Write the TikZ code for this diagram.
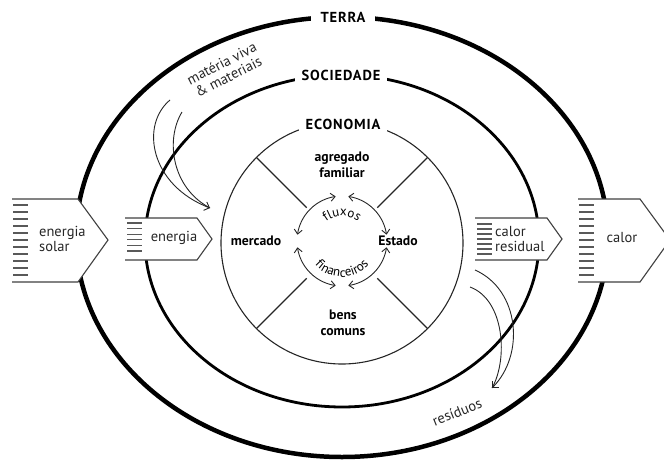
\documentclass[tikz,border=0pt]{standalone}
\usepackage{fontspec}
\setmainfont{PT Sans}
\usetikzlibrary{decorations.text,arrows.meta}
\tikzset{
  boxline/.style={draw=black!75, line width=1.1pt, fill=white},
  hatch/.style={draw=black!65, line width=1.3pt},
  lbl/.style={font=\fontsize{14.5}{15}\selectfont, align=center, inner sep=1pt, text=black!85},
  blbl/.style={font=\bfseries\fontsize{13.7}{15.5}\selectfont, align=center, inner sep=1pt},
  title/.style={font=\bfseries\fontsize{14.5}{15}\selectfont\addfontfeature{LetterSpace=6}, fill=white},
  ringarrow/.style={draw=black!85, line width=0.9pt, {Straight Barb[length=4.5pt,width=8pt]}-{Straight Barb[length=4.5pt,width=8pt]}},
  flow/.style={draw=black!85, line width=0.9pt}
}
\begin{document}
\begin{tikzpicture}[x=1pt,y=-1pt]
\useasboundingbox (0,0) rectangle (664,463);
% ellipses
\draw[line width=4.5pt] (342,237) ellipse [x radius=266, y radius=220];
\draw[line width=2.8pt] (342,241) ellipse [x radius=197, y radius=166];
\draw[line width=1.1pt, draw=black!85] (342,243) circle [radius=121];
% dividers
\foreach \a in {45,135,225,315}
  \draw[line width=1.1pt, draw=black!85] ({342+50*cos(\a)},{243+50*sin(\a)}) -- ({342+121*cos(\a)},{243+121*sin(\a)});
% titles
\node[title, inner xsep=10pt] (terra) at (343,17) {TERRA};
\node[title, inner xsep=7pt] (soc) at (341,75) {SOCIEDADE};
\node[title, inner xsep=7pt] (eco) at (343,124) {ECONOMIA};
% ring arrows
\foreach \s in {8,98,188,278}
  \draw[ringarrow] plot[domain=\s:\s+74, samples=25, smooth] ({342+45*cos(\x)},{241-45*sin(\x)});
\path[decorate, decoration={text along path, text align=center,
   text={|\fontsize{13}{14}\selectfont|fluxos}}]
   (320.35,228.5) .. controls (329.98,211.83) and (354.02,211.83) .. (363.65,228.5);
\path[decorate, decoration={text along path, text align=center,
   text={|\fontsize{13}{14}\selectfont|financeiros}}]
   (308.17,253.31) .. controls (319.66,284.89) and (364.34,284.89) .. (375.83,253.31);
% economy labels
\node[blbl] (fam) at (342,165) {agregado\\familiar};
\node[blbl] (merc) at (256,241) {mercado};
\node[blbl] (est) at (398,241) {Estado};
\node[blbl] (bens) at (343,323) {bens\\comuns};
% energy boxes
\filldraw[boxline] (12,199) -- (78,199) -- (108,240) -- (78,282) -- (12,282);
\foreach \i in {0,...,10} \draw[hatch] (13,{205+7*\i}) -- (28,{205+7*\i});
\node[lbl, anchor=west, align=left] (solar) at (38,239) {energia\\solar};
\filldraw[boxline] (125,218) -- (197,218) -- (212,239) -- (197,260) -- (125,260);
\foreach \i in {0,...,5} \draw[hatch] (127,{223+5.6*\i}) -- (142,{223+5.6*\i});
\node[lbl] (en) at (174,238) {energia};
\filldraw[boxline] (475,218) -- (547,218) -- (562,239) -- (547,260) -- (475,260);
\foreach \i in {0,...,6} \draw[hatch] (477,{224+5*\i}) -- (492,{224+5*\i});
\node[lbl, anchor=west, align=left] (resid) at (494,239) {calor\\residual};
\filldraw[boxline] (578,199) -- (640,199) -- (670,240) -- (640,282) -- (578,282);
\foreach \i in {0,...,10} \draw[hatch] (579,{205+7*\i}) -- (594,{205+7*\i});
\node[lbl] (calor) at (622,238) {calor};
% material inflow
\coordinate (m1) at (170,100);
\coordinate (m2) at (182,112);
\coordinate (mt) at (210,208);
\draw[flow, -{Straight Barb[length=4.5pt,width=9pt]}] (m1) .. controls (140,125) and (150,185) .. (mt);
\draw[flow] (m2) .. controls (165,140) and (172,188) .. (mt);
\node[lbl, rotate=27] (mat) at (225,70) {matéria viva\\\& materiais};
% waste outflow
\coordinate (r1) at (475,270);
\coordinate (r2) at (470,287);
\coordinate (rt) at (492,388);
\draw[flow, -{Straight Barb[length=4.5pt,width=9pt]}] (r1) .. controls (520,290) and (525,355) .. (rt);
\draw[flow] (r2) .. controls (505,300) and (508,360) .. (rt);
\node[lbl, rotate=22] (res) at (457,412) {resíduos};
\end{tikzpicture}
\end{document}
